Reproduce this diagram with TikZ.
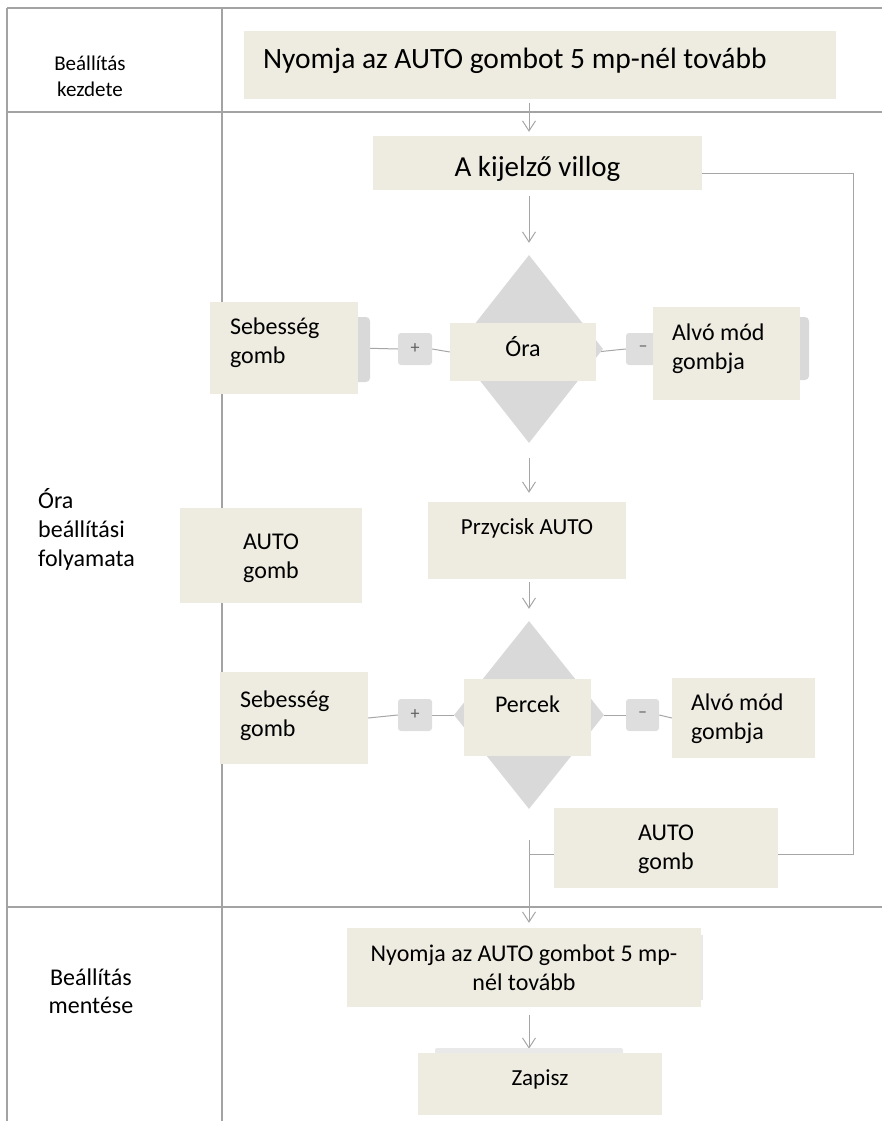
\documentclass[tikz,border=0pt]{standalone}
\usepackage{fontspec}
\setmainfont{Carlito}
\usetikzlibrary{shapes.geometric,arrows.meta,backgrounds}

\definecolor{boxfill}{HTML}{EEEBE0}
\definecolor{shapegray}{HTML}{D9D9D9}
\definecolor{keygray}{HTML}{DEDEDE}
\definecolor{keytext}{HTML}{606060}
\definecolor{linegray}{HTML}{A6A6A6}
\definecolor{framegray}{HTML}{A3A3A3}
\definecolor{shadowgray}{HTML}{E9E9E9}

\begin{document}
\begin{tikzpicture}[x=1pt,y=-1pt,
	box/.style={fill=boxfill, inner ysep=0pt, inner xsep=2pt, align=center, font=\fontsize{24}{29}\selectfont},
	bigbox/.style={box, font=\fontsize{29.5}{35}\selectfont},
	keybox/.style={fill=keygray, rounded corners=3pt, minimum width=34pt, minimum height=32pt, inner sep=0pt, text=keytext, font=\fontsize{18}{18}\selectfont},
	choice/.style={diamond, fill=shapegray, inner sep=0pt},
	lane/.style={align=center, inner sep=0pt},
	frame/.style={draw=framegray, line width=1.2pt},
	link/.style={draw=linegray, line width=1pt},
	arr/.style={link, -{Straight Barb[length=10pt,width=13pt]}}]
	
	\useasboundingbox (0,0) rectangle (882,1121);
	
	% lanes
	\node[lane, font=\fontsize{21}{26}\selectfont] (lanestart) at (90, 76) {Beállítás\\kezdete};
	\node[lane, align=flush left, anchor=west, font=\fontsize{24}{29}\selectfont] (laneclock) at (38, 529) {Óra\\beállítási\\folyamata};
	\node[lane, font=\fontsize{24}{28}\selectfont] (lanesave) at (91, 991) {Beállítás\\mentése};
	
	% decisions
	\node[choice, minimum width=148pt, minimum height=188pt] (dia1) at (529, 349) {};
	\node[choice, minimum width=150pt, minimum height=188pt] (dia2) at (529, 715) {};
	
	% steps
	\node[bigbox, align=flush left, text width=554pt, inner xsep=19pt, text height=38pt, text depth=30pt] (start) at (540, 65) {Nyomja az AUTO gombot 5 mp-nél tovább};
	\node[bigbox, font=\fontsize{29}{35}\selectfont, minimum width=329pt, text height=40pt, text depth=14pt] (kijelzo) at (537.5, 163) {A kijelző villog};
	
	\node[box, minimum width=146pt, text height=33pt, text depth=25pt] (ora) at (523, 352) {Óra};
	\node[box, align=flush left, text width=108pt, inner xsep=20pt, text height=32pt, text depth=60pt] (seb1) at (284, 348) {Sebesség\\gomb};
	\node[keybox] (plus1) at (415, 349) {+};
	\node[keybox] (minus1) at (643, 349) {–};
	\node[box, align=flush left, text width=109pt, inner xsep=19pt, text height=33pt, text depth=60pt] (alvo1) at (726.5, 353.5) {Alvó mód\\gombja};
	
	\node[box, minimum width=182pt, text height=70pt, text depth=25pt] (autoL) at (271, 555.5) {AUTO\\gomb};
	\node[box, font=\fontsize{23}{28}\selectfont, minimum width=198pt, text height=32pt, text depth=45pt] (przycisk) at (527, 540.5) {Przycisk AUTO};
	
	\node[box, minimum width=127pt, text height=33pt, text depth=44pt] (percek) at (527.5, 717.5) {Percek};
	\node[box, align=flush left, text width=108pt, inner xsep=20pt, text height=35pt, text depth=57pt] (seb2) at (294, 718) {Sebesség\\gomb};
	\node[keybox] (plus2) at (415, 715) {+};
	\node[keybox, minimum width=33pt] (minus2) at (642.5, 715) {–};
	\node[box, align=flush left, text width=105pt, inner xsep=19pt, text height=32pt, text depth=48pt] (alvo2) at (743.5, 718) {Alvó mód\\gombja};
	
	\node[box, minimum width=224pt, text height=61pt, text depth=19pt] (autoR) at (666, 848) {AUTO\\gomb};
	\node[box, minimum width=354pt, text height=62pt, text depth=17pt] (nyomja2) at (524, 967.5) {Nyomja az AUTO gombot 5 mp-\\nél tovább};
	\node[box, font=\fontsize{23}{28}\selectfont, minimum width=244pt, text height=32pt, text depth=30pt] (zapisz) at (540, 1084) {Zapisz};
	
	\begin{scope}[on background layer]
		% frame
		\draw[frame] (7, 8) -- (882, 8);
		\draw[frame] (7, 8) -- (7, 1121);
		\draw[frame] (222, 8) -- (222, 1121);
		\draw[frame] (7, 112) -- (882, 112);
		\draw[frame] (7, 907) -- (882, 907);
		
		% flow
		\draw[arr, shorten <=4pt, shorten >=4pt] (start.south -| dia1) -- (kijelzo.north -| dia1);
		\draw[arr, shorten <=6pt, shorten >=12pt] (kijelzo.south -| dia1) -- (dia1.north);
		\draw[arr, shorten <=15pt, shorten >=9pt] (dia1.south) -- (przycisk.north -| dia1);
		\draw[arr, shorten <=3pt, shorten >=12pt] (przycisk.south -| dia2) -- (dia2.north);
		\draw[arr, shorten <=31pt, shorten >=5pt] (dia2.south) -- (nyomja2.north -| dia2);
		\draw[arr, shorten <=8pt, shorten >=4pt] (nyomja2.south -| dia2) -- (zapisz.north -| dia2);
		
		\draw[link] (seb1.east) -- (plus1.west);
		\draw[link] (plus1.east) -- (ora.west);
		\draw[link] (ora.east) -- (minus1.west);
		\draw[link] (seb2.east) -- (plus2.west);
		\draw[link] (plus2.east) -- (dia2.west);
		\draw[link] (dia2.east) -- (minus2.west);
		\draw[link] (minus2.east) -- (alvo2.west);
		
		\draw[link] ([yshift=-6pt]autoR.west) -- ([yshift=-6pt]autoR.west -| dia2);
		\draw[link] ([yshift=-10pt]kijelzo.east) -| (853, 854) -- ([yshift=-6pt]autoR.east);
		
		% shadows
		\fill[shapegray, rounded corners=4pt] (350, 317) rectangle (370, 382);
		\fill[shapegray, rounded corners=4pt] (795, 317) rectangle (809, 380);
		\fill[shadowgray, rounded corners=2pt] (435, 1048) rectangle (623, 1054);
		\fill[shadowgray] (701, 935) rectangle (703, 1000);
	\end{scope}
\end{tikzpicture}
\end{document}
